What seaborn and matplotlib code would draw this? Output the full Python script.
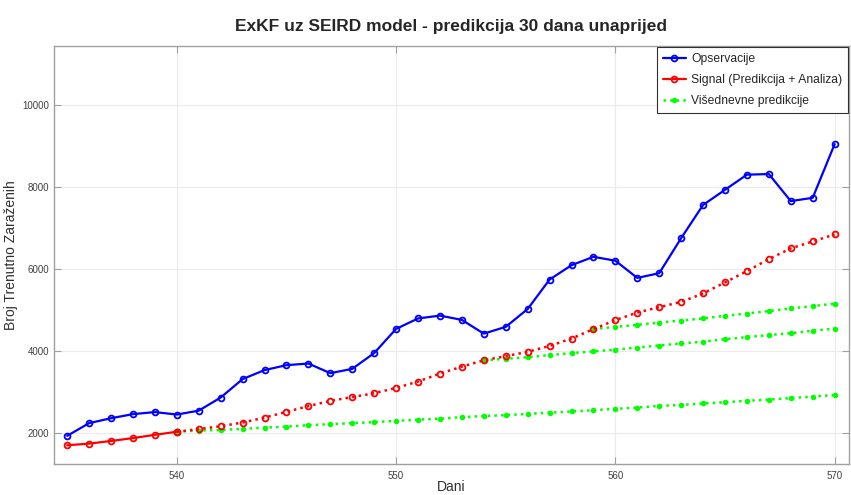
import pandas as pd
import matplotlib
matplotlib.use('Agg')
import matplotlib.pyplot as plt
import seaborn as sns

# Data
dani = list(range(535, 571))
opservacije = [1935, 2245, 2365, 2465, 2515, 2455, 2550, 2870, 3320, 3540,
               3660, 3700, 3465, 3570, 3955, 4545, 4800, 4870, 4765, 4430,
               4595, 5030, 5750, 6100, 6305, 6210, 5790, 5905, 6760, 7570,
               7940, 8310, 8325, 7665, 7745, 9055]
signal = [1705, 1745, 1810, 1880, 1960, 2035, 2100, 2170, 2260, 2380,
          2520, 2660, 2790, 2880, 2975, 3105, 3260, 3455, 3625, 3780,
          3880, 3985, 4130, 4310, 4540, 4760, 4945, 5075, 5205, 5410,
          5680, 5955, 6250, 6510, 6680, 6850]
analiza_do = 540  # signal is analysis up to this day, prediction after

pred1_dani = list(range(540, 571))
pred1 = [2035, 2065, 2080, 2105, 2135, 2160, 2195, 2220, 2245, 2270,
         2300, 2330, 2355, 2390, 2420, 2440, 2470, 2500, 2530, 2560,
         2595, 2625, 2665, 2690, 2725, 2755, 2790, 2820, 2855, 2895, 2930]
pred2_dani = list(range(554, 571))
pred2 = [3780, 3815, 3855, 3905, 3955, 3995, 4040, 4090, 4140, 4190,
         4235, 4295, 4345, 4395, 4440, 4500, 4555]
pred3_dani = list(range(559, 571))
pred3 = [4540, 4595, 4645, 4700, 4750, 4800, 4865, 4920, 4980, 5045,
         5100, 5165]

df_obs = pd.DataFrame({'dan': dani, 'broj': opservacije})
df_sig = pd.DataFrame({'dan': dani, 'broj': signal})
df_an = df_sig[df_sig['dan'] <= analiza_do]
df_pr = df_sig[df_sig['dan'] >= analiza_do]
predikcije = [pd.DataFrame({'dan': d, 'broj': v})
              for d, v in [(pred1_dani, pred1), (pred2_dani, pred2), (pred3_dani, pred3)]]

sns.set_style('whitegrid')
plt.rcParams['font.family'] = ['Liberation Sans', 'DejaVu Sans']

fig = plt.figure(figsize=(8.51, 4.95), dpi=100)
ax = fig.add_axes([0.0635, 0.062, 0.934, 0.845])

blue = '#0000ff'
red = '#ff0000'
green = '#00ff00'

for i, df in enumerate(predikcije):
    sns.lineplot(data=df, x='dan', y='broj', ax=ax, color=green, linestyle=':',
                 linewidth=1.8, marker='o', markersize=4, markeredgewidth=0,
                 markeredgecolor=green,
                 label='Višednevne predikcije' if i == 0 else None, zorder=3)

open_marker = dict(marker='o', markersize=4.2, markerfacecolor='none',
                   markeredgewidth=1.3)
sns.lineplot(data=df_pr, x='dan', y='broj', ax=ax, color=red, linestyle=':',
             linewidth=1.8, markeredgecolor=red, zorder=4, **open_marker)
sns.lineplot(data=df_an, x='dan', y='broj', ax=ax, color=red, linewidth=1.6,
             markeredgecolor=red, label='Signal (Predikcija + Analiza)',
             zorder=4, **open_marker)
sns.lineplot(data=df_obs, x='dan', y='broj', ax=ax, color=blue, linewidth=1.6,
             markeredgecolor=blue, label='Opservacije', zorder=5, **open_marker)

ax.set_xlim(534.4, 570.65)
ax.set_ylim(1240, 11450)
ax.set_xticks([540, 550, 560, 570])
ax.set_yticks([2000, 4000, 6000, 8000, 10000])
ax.grid(True, color='#ebebeb', linewidth=0.8)
for s in ax.spines.values():
    s.set_color('#a0a0a0')
    s.set_linewidth(1.0)
ax.tick_params(axis='both', which='both', direction='in', length=5, width=0.8,
               colors='#a0a0a0', labelcolor='#404040', labelsize=7,
               top=True, right=True, bottom=True, left=True)
ax.tick_params(axis='x', pad=5)

ax.set_title('ExKF uz SEIRD model - predikcija 30 dana unaprijed',
             fontsize=12.5, fontweight='bold', pad=11)
ax.set_xlabel('Dani', fontsize=10, color='#303030', labelpad=-1)
ax.set_ylabel('Broj Trenutno Zaraženih', fontsize=10, color='#303030')
ax.yaxis.set_label_coords(-0.045, 0.5)

h, l = ax.get_legend_handles_labels()
order = [l.index('Opservacije'), l.index('Signal (Predikcija + Analiza)'),
         l.index('Višednevne predikcije')]
leg = ax.legend([h[i] for i in order], [l[i] for i in order], loc='upper right',
                fontsize=8.7, frameon=True, fancybox=False, framealpha=1,
                edgecolor='#303030', borderpad=0.5, handlelength=1.9,
                handletextpad=0.45, labelspacing=0.75, borderaxespad=0,
                bbox_to_anchor=(0.9995, 0.997))
leg.get_frame().set_linewidth(0.8)

fig.savefig('out.png', dpi=100)
